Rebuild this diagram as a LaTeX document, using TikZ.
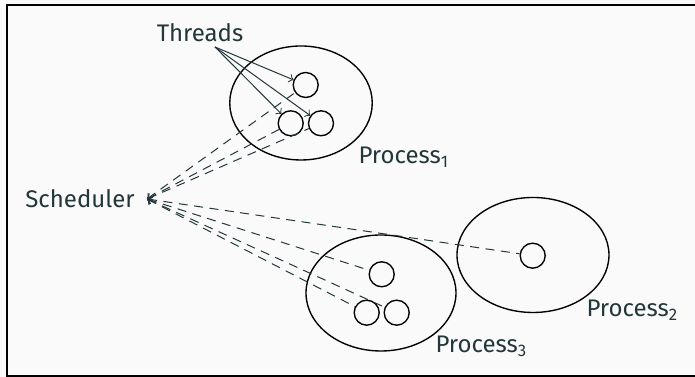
\documentclass[tikz,border=0pt]{standalone}
\usepackage{fontspec}
\setmainfont{Fira Sans}
\usetikzlibrary{shapes.geometric}
\definecolor{teal}{HTML}{23373B}
\definecolor{bgc}{HTML}{FAFAFA}
\tikzset{
  lbl/.style={text=teal, font=\fontsize{9.6}{11}\selectfont, inner sep=0pt},
  proc/.style={draw=black, line width=0.55pt, shape=ellipse, inner sep=0pt},
  thr/.style={draw=black, line width=0.55pt, shape=circle, minimum size=10pt, inner sep=0pt},
  ptr/.style={draw=teal, line width=0.4pt, -to},
  sch/.style={draw=teal, line width=0.4pt, to-, dash pattern=on 3.6pt off 2.6pt},
}
\begin{document}
\begin{tikzpicture}[x=0.4pt, y=-0.4pt]
\useasboundingbox (0,0) rectangle (695,377);
\fill[bgc] (0,0) rectangle (695,377);
\draw[black, line width=0.8pt] (700,5) -- (7,5) -- (7,376) -- (700,376);

% processes
\node[proc, minimum width=57pt, minimum height=45.6pt] (p1) at (301,103) {};
\node[proc, minimum width=60.8pt, minimum height=46pt] (p2) at (533,255) {};
\node[proc, minimum width=60pt, minimum height=46.4pt] (p3) at (381,293) {};

% threads
\node[thr] (t1a) at (305.7,85) {};
\node[thr] (t1b) at (290.7,123.3) {};
\node[thr] (t1c) at (321,123.3) {};
\node[thr] (t2a) at (532.7,255.7) {};
\node[thr] (t3a) at (381.7,274.3) {};
\node[thr] (t3b) at (366.7,312.7) {};
\node[thr] (t3c) at (396.7,312.7) {};

% labels
\node[lbl, anchor=base] (threads) at (200,42) {Threads};
\node[lbl, anchor=base west] (l1) at (358,164) {Process\textsubscript{1}};
\node[lbl, anchor=base west] (l2) at (586,317) {Process\textsubscript{2}};
\node[lbl, anchor=base west] (l3) at (435,353) {Process\textsubscript{3}};
\node[lbl, anchor=base, inner xsep=6pt] (sched) at (80,208) {Scheduler};

\coordinate (tsrc) at (215,47);
\coordinate (ssrc) at (147,199);

% thread arrows
\draw[ptr] (tsrc) -- (t1a);
\draw[ptr] (tsrc) -- (t1b);
\draw[ptr] (tsrc) -- (t1c);

% scheduler links
\foreach \t in {t1a,t1b,t1c,t2a,t3a,t3b,t3c}
  \draw[sch] (ssrc) -- (\t);
\end{tikzpicture}
\end{document}
